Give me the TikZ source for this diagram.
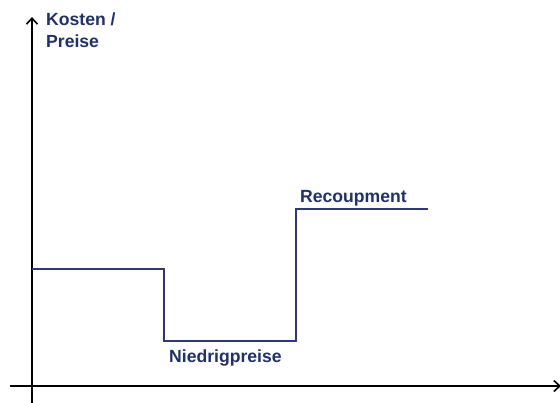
\documentclass[tikz,border=0pt]{standalone}
\usepackage{fontspec}
\setmainfont{Liberation Sans}
\usetikzlibrary{arrows.meta}
\definecolor{labelnavy}{RGB}{31,48,112}
\definecolor{stepnavy}{RGB}{48,54,132}
\begin{document}
\begin{tikzpicture}[x=1pt,y=-1pt,
  axis/.style={black,line width=1.8pt,-{Straight Barb[length=6pt,width=11pt,line width=1.6pt]}},
  priceline/.style={stepnavy,line width=1.8pt,line join=miter},
  lbl/.style={labelnavy,font=\bfseries\fontsize{17.6}{22}\selectfont,inner sep=0pt,anchor=base west}]
\useasboundingbox (0,0) rectangle (560,402);
% axes
\coordinate (xstart) at (10,386);
\coordinate (xend) at (561,386);
\coordinate (ystart) at (32,405);
\coordinate (yend) at (32,17);
\draw[axis] (xstart) -- (xend);
\draw[axis] (ystart) -- (yend);
% price path
\coordinate (p0) at (32,269);
\coordinate (p1) at (164,269);
\coordinate (p2) at (164,341);
\coordinate (p3) at (296,341);
\coordinate (p4) at (296,209);
\coordinate (p5) at (428,209);
\draw[priceline] (p0) -- (p1) -- (p2) -- (p3) -- (p4) -- (p5);
% labels
\node[lbl] (kosten) at (46,25) {Kosten /};
\node[lbl] (preise) at (46,47) {Preise};
\node[lbl] (recoup) at (300,202) {Recoupment};
\node[lbl] (niedrig) at (169,362) {Niedrigpreise};
\end{tikzpicture}
\end{document}
